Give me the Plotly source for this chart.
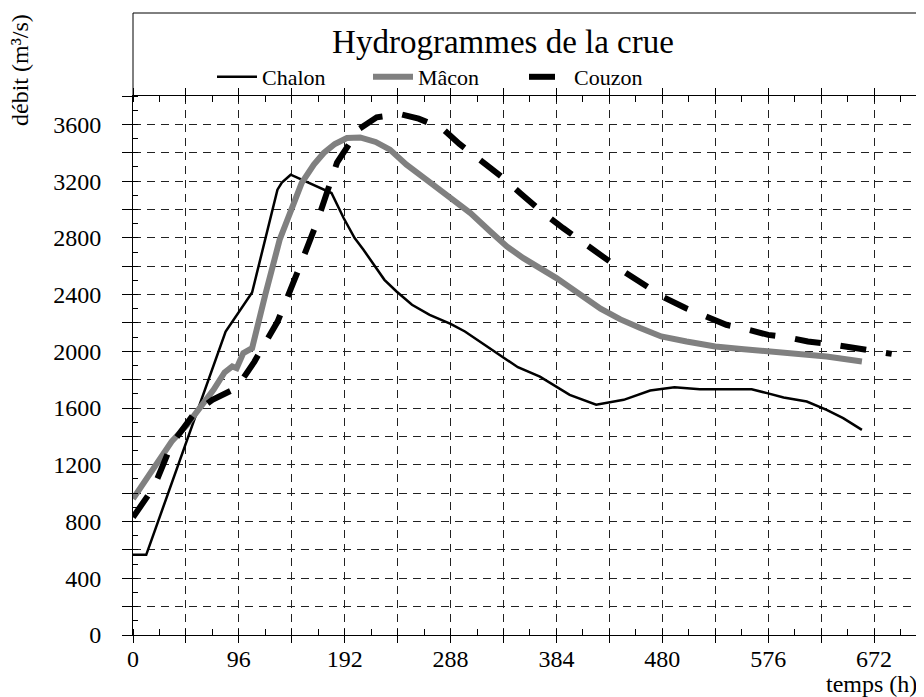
import plotly.graph_objects as go

# ---- data ----
chalon_h = [0, 12, 84, 108, 131, 135, 143, 163, 180, 191, 201, 209, 228, 239, 253, 269, 288, 301,
            321, 336, 349, 369, 383, 396, 420, 433, 445, 469, 491, 514, 538, 561, 575, 590, 611,
            629, 644, 661]
chalon_q = [565, 565, 2140, 2415, 3140, 3190, 3245, 3175, 3116, 2940, 2798, 2716, 2504, 2422, 2328,
            2257, 2194, 2140, 2034, 1952, 1888, 1822, 1757, 1693, 1623, 1639, 1658, 1724, 1747, 1733,
            1733, 1733, 1705, 1674, 1646, 1587, 1529, 1446]

macon_h = [0, 18, 28, 35, 49, 61, 73, 83, 90, 94, 100, 108, 112, 120, 133, 144, 153, 164, 173, 183,
           194, 206, 220, 233, 248, 266, 288, 306, 324, 339, 354, 384, 424, 442, 460, 479, 502, 528,
           554, 581, 605, 629, 661]
macon_q = [960, 1164, 1282, 1364, 1481, 1599, 1728, 1851, 1893, 1881, 1987, 2022, 2152, 2400, 2787,
           2998, 3187, 3316, 3398, 3462, 3504, 3508, 3476, 3422, 3316, 3210, 3081, 2975, 2845, 2739,
           2657, 2516, 2300, 2225, 2164, 2105, 2069, 2034, 2015, 1999, 1982, 1963, 1928]

couzon_h = [0, 19, 35, 56, 72, 94, 110, 131, 149, 167, 185, 205, 221, 242, 259, 280, 296, 316, 334,
            352, 371, 390, 408, 428, 445, 464, 481, 501, 520, 538, 556, 576, 594, 612, 631, 650, 668,
            688]
couzon_q = [830, 1044, 1345, 1566, 1658, 1742, 1926, 2208, 2554, 2914, 3330, 3568, 3650, 3673, 3640,
            3574, 3462, 3346, 3233, 3109, 2982, 2869, 2763, 2657, 2563, 2469, 2382, 2305, 2241, 2187,
            2156, 2116, 2098, 2069, 2053, 2029, 1999, 1982]

x_tickvals = list(range(0, 721, 48))
x_ticktext = [str(v) if v % 96 == 0 else "" for v in x_tickvals]
y_tickvals = list(range(0, 3801, 200))
y_ticktext = [str(v) if v % 400 == 0 else "" for v in y_tickvals]

FONT = "Liberation Serif, Times New Roman, serif"

fig = go.Figure()
fig.add_trace(go.Scatter(x=chalon_h, y=chalon_q, mode="lines", name="Chalon",
                         line=dict(color="black", width=2.5)))
fig.add_trace(go.Scatter(x=macon_h, y=macon_q, mode="lines", name="Mâcon",
                         line=dict(color="#808080", width=6)))
fig.add_trace(go.Scatter(x=couzon_h, y=couzon_q, mode="lines", name="Couzon",
                         line=dict(color="black", width=6, dash="26px,20px")))

axis_common = dict(
    showline=True, linecolor="black", linewidth=1, mirror="ticks",
    showgrid=True, gridcolor="#222222", gridwidth=1, griddash="8px,6px",
    zeroline=False, tickcolor="black", automargin=False,
    tickfont=dict(family=FONT, size=24, color="black"),
)

fig.update_xaxes(**axis_common, range=[0, 717.3], tickvals=x_tickvals, ticktext=x_ticktext,
                 ticks="outside", ticklen=7, ticklabelstandoff=-5,
                 minor=dict(dtick=24, tick0=0, ticks="inside", ticklen=6, tickcolor="black",
                            showgrid=False))
fig.update_yaxes(**axis_common, range=[0, 3800], tickvals=y_tickvals, ticktext=y_ticktext,
                 ticks="outside", ticklen=10, ticklabelstandoff=16,
                 minor=dict(dtick=100, tick0=0, ticks="inside", ticklen=5, tickcolor="black",
                            showgrid=False))

# figure is placed by the page with an 8px body margin
W, H = 916, 689
L, R, T, B = 125, 0, 88, 62
pw, ph = W - L - R, H - T - B
top_box = 5

def px_x(p):
    return (p - L) / pw

def px_y(p):
    return (T + ph - p) / ph

fig.add_shape(type="line", xref="paper", yref="paper", x0=0, x1=1,
              y0=px_y(top_box), y1=px_y(top_box), line=dict(color="black", width=1))
fig.add_shape(type="line", xref="paper", yref="paper", x0=0, x1=0,
              y0=1, y1=px_y(top_box), line=dict(color="black", width=1))

fig.add_annotation(text="débit (m³/s)", textangle=-90, xref="paper", yref="paper",
                   x=px_x(12), y=px_y(4), xanchor="center", yanchor="top",
                   showarrow=False, font=dict(family=FONT, size=24, color="black"))
fig.add_annotation(text="temps (h)", xref="paper", yref="paper",
                   x=px_x(911), y=px_y(676), xanchor="right", yanchor="middle",
                   showarrow=False, font=dict(family=FONT, size=24, color="black"))

fig.update_layout(
    width=W, height=H,
    margin=dict(l=L, r=R, t=T, b=B, autoexpand=False),
    paper_bgcolor="white", plot_bgcolor="white",
    font=dict(family=FONT, size=22, color="black"),
    title=dict(text="Hydrogrammes de la crue", x=495 / W, xref="container", xanchor="center",
               y=1 - 33 / H, yref="container", yanchor="middle",
               font=dict(family=FONT, size=33, color="black")),
    showlegend=True,
    legend=dict(orientation="h", x=px_x(204), xanchor="left",
                y=px_y(69), yanchor="middle", itemwidth=40,
                entrywidth=101, entrywidthmode="pixels",
                bgcolor="rgba(0,0,0,0)", font=dict(family=FONT, size=22, color="black")),
)

fig.write_html("out.html")
